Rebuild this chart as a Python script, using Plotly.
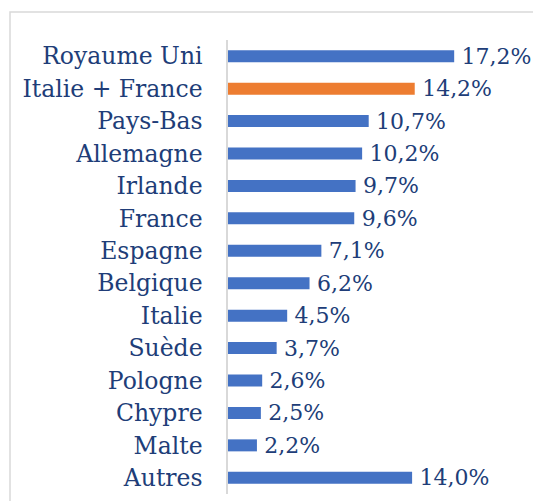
import plotly.graph_objects as go

countries = [
    "Royaume Uni", "Italie + France", "Pays-Bas", "Allemagne", "Irlande",
    "France", "Espagne", "Belgique", "Italie", "Suède", "Pologne",
    "Chypre", "Malte", "Autres",
]
shares = [17.2, 14.2, 10.7, 10.2, 9.7, 9.6, 7.1, 6.2, 4.5, 3.7, 2.6, 2.5, 2.2, 14.0]
highlight = "Italie + France"

BLUE = "#4472C4"
ORANGE = "#ED7D31"
TEXT = "#203D78"
FONT = "DejaVu Serif"

W, H = 533, 501
ML, MR, MT, MB = 228, 20, 40, 7
PX_PER_PCT = 13.15
plot_w = W - ML - MR
plot_h = H - MT - MB

colors = [ORANGE if c == highlight else BLUE for c in countries]
# thin space in front to push the value a little off the bar end
labels = ["\u2009" + f"{v:.1f}%".replace(".", ",") for v in shares]

fig = go.Figure(
    go.Bar(
        x=shares,
        y=countries,
        orientation="h",
        marker=dict(color=colors, line_width=0),
        text=labels,
        textposition="outside",
        constraintext="none",
        cliponaxis=False,
        textfont=dict(family=FONT, size=22, color=TEXT),
        hoverinfo="skip",
    )
)


def px_x(p):
    return (p - ML) / plot_w


def px_y(p):
    return 1 - (p - MT) / plot_h


# light frame around the chart area, as in the source image
fig.add_shape(
    type="rect", xref="paper", yref="paper",
    x0=px_x(10), x1=px_x(545), y0=px_y(12), y1=px_y(520),
    line=dict(color="#D9D9D9", width=1.5), fillcolor="rgba(0,0,0,0)",
)

fig.update_layout(
    width=W,
    height=H,
    margin=dict(l=ML, r=MR, t=MT, b=MB),
    paper_bgcolor="white",
    plot_bgcolor="white",
    bargap=0.63,
    showlegend=False,
    font=dict(family=FONT, color=TEXT),
)
fig.update_xaxes(
    range=[0, plot_w / PX_PER_PCT],
    visible=False,
)
fig.update_yaxes(
    autorange="reversed",
    showline=True,
    linecolor="#D9D9D9",
    linewidth=1.5,
    showgrid=False,
    ticks="",
    ticklabelstandoff=19,
    tickfont=dict(family=FONT, size=23.5, color=TEXT),
)

# drop the default page margin so the figure sits at the window's corner
fig.write_html(
    "out.html",
    config={"displayModeBar": False},
    post_script="document.body.style.margin = '0';",
)
